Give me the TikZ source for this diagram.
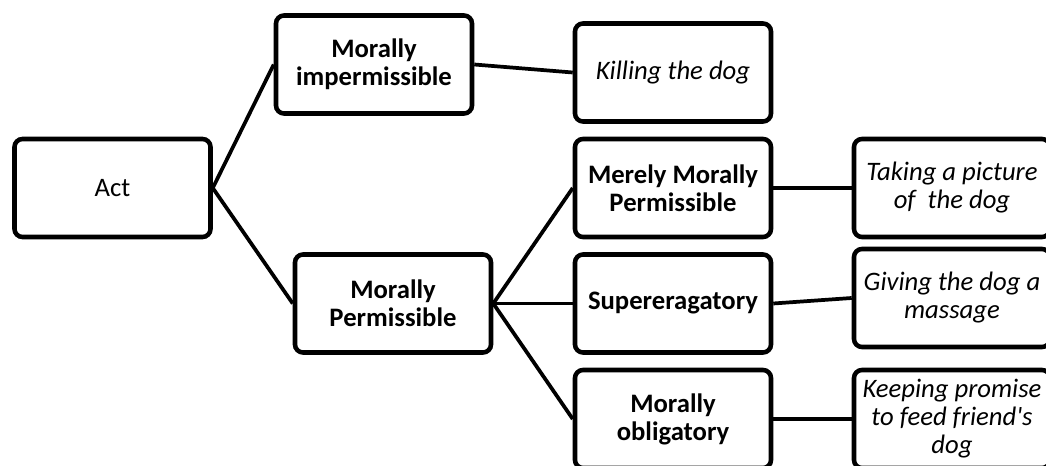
\documentclass[tikz,border=0pt]{standalone}
\usepackage{fontspec}
\setmainfont{Carlito}
\usetikzlibrary{positioning}
\tikzset{
  box/.style={draw, line width=3.4pt, rounded corners=6pt, fill=white, minimum width=147pt, minimum height=73.5pt, align=center, inner sep=1pt, font=\fontsize{20}{21}\selectfont},
  kind/.style={box, font=\fontsize{20}{21}\selectfont\bfseries},
  example/.style={box, font=\fontsize{20}{21}\selectfont\itshape},
  link/.style={line width=2.8pt}
}

\begin{document}
\begin{tikzpicture}[x=0.75pt,y=-0.75pt]
  \useasboundingbox (0,0) rectangle (1046,466);
  \clip (0,0) rectangle (1046,466);
  % root
  \node[box] (act) at (112.5,188) {Act};
  % first level
  \node[kind] (mimp) at (374,64.5) {Morally\\impermissible};
  \node[kind] (mperm) at (393,303.5) {Morally\\Permissible};
  % second level
  \node[kind] (mere) at (673,188) {Merely Morally\\Permissible};
  \node[kind] (super) at (673,303.5) {Supereragatory};
  \node[kind] (oblig) at (673,419) {Morally\\obligatory};
  % examples
  \node[example] (kill) at (673,72.5) {Killing the dog};
  \node[example] (photo) at (952,188) {Taking a picture\\of \ the dog};
  \node[example] (massage) at (952,298) {Giving the dog a\\massage};
  \node[example] (promise) at (952,419) {Keeping promise\\to feed friend\textquotesingle s\\dog};
  % links
  \draw[link] (act.east) -- (mimp.west);
  \draw[link] (act.east) -- (mperm.west);
  \draw[link] (mimp.east) -- (kill.west);
  \draw[link] (mperm.east) -- (mere.west);
  \draw[link] (mperm.east) -- (super.west);
  \draw[link] (mperm.east) -- (oblig.west);
  \draw[link] (mere.east) -- (photo.west);
  \draw[link] (super.east) -- (massage.west);
  \draw[link] (oblig.east) -- (promise.west);
\end{tikzpicture}
\end{document}
